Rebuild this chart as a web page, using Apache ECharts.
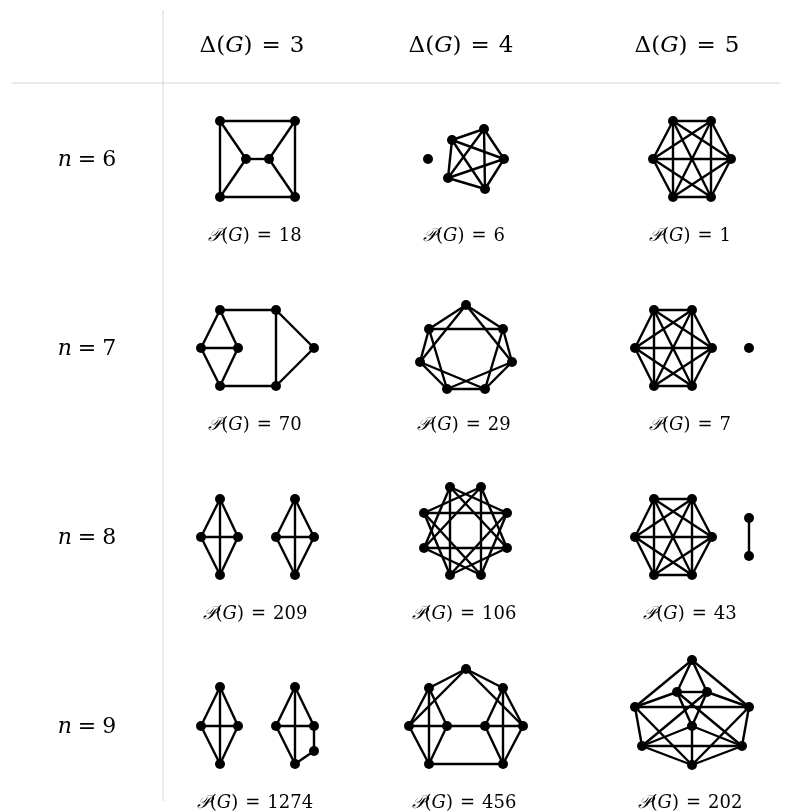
<!DOCTYPE html>
<html>
<head>
  <meta charset="utf-8">
  <title>ECharts</title>
  <script src="https://cdn.jsdelivr.net/npm/echarts@6/dist/echarts.min.js"></script>
</head>
<body style="margin:0">
<div id="main" style="width: 791px;height:811px;"></div>
<script type="text/javascript">
  // table headers
  var degLabels = ['3', '4', '5'];
  var nLabels = ['6', '7', '8', '9'];
  // P(G) per row (n) and column (Delta)
  var pValues = [
    [18, 6, 1],
    [70, 29, 7],
    [209, 106, 43],
    [1274, 456, 202]
  ];

  // graph layouts: node offsets from cell centre, edges as index pairs
  var g63 = {
    nodes: [[-37, -38], [38, -38], [-37, 38], [38, 38], [-11, 0], [12, 0]],
    edges: [[0, 1], [0, 2], [1, 3], [2, 3], [0, 4], [2, 4], [4, 5], [5, 1], [5, 3]]
  };
  var g64 = {
    nodes: [[-38, 0], [18, -30], [-14, -19], [38, 0], [-18, 19], [19, 30]],
    edges: [[1, 2], [1, 3], [1, 4], [1, 5], [2, 3], [2, 4], [2, 5], [3, 4], [3, 5], [4, 5]]
  };
  var g65 = {
    nodes: [[-19, -38], [19, -38], [-39, 0], [39, 0], [-19, 38], [19, 38]],
    edges: [[0, 1], [0, 2], [0, 3], [0, 4], [0, 5], [1, 2], [1, 3], [1, 4], [1, 5],
            [2, 3], [2, 4], [2, 5], [3, 4], [3, 5], [4, 5]]
  };
  var g73 = {
    nodes: [[-37, -38], [-56, 0], [-19, 0], [-37, 38], [19, -38], [19, 38], [57, 0]],
    edges: [[0, 1], [0, 2], [1, 2], [1, 3], [2, 3], [0, 4], [3, 5], [4, 5], [4, 6], [5, 6]]
  };
  // C7(1,2): order top, ur, r, br, bl, l, ul
  var g74 = {
    nodes: [[0, -43], [37, -19], [46, 14], [19, 41], [-19, 41], [-46, 14], [-37, -19]],
    edges: [[0, 1], [1, 2], [2, 3], [3, 4], [4, 5], [5, 6], [6, 0],
            [0, 2], [1, 3], [2, 4], [3, 5], [4, 6], [5, 0], [6, 1]]
  };
  var g75 = {
    nodes: [[-38, -38], [0, -38], [-57, 0], [20, 0], [-38, 38], [0, 38], [57, 0]],
    edges: [[0, 1], [0, 2], [0, 3], [0, 4], [0, 5], [1, 2], [1, 3], [1, 4], [1, 5],
            [2, 3], [2, 4], [2, 5], [3, 4], [3, 5], [4, 5]]
  };
  var g83 = {
    nodes: [[-37, -38], [-56, 0], [-19, 0], [-37, 38], [38, -38], [19, 0], [57, 0], [38, 38]],
    edges: [[0, 1], [0, 2], [0, 3], [1, 2], [1, 3], [2, 3],
            [4, 5], [4, 6], [4, 7], [5, 6], [5, 7], [6, 7]]
  };
  // C8(2,3): order tl, tr, ur, lr, br, bl, ll, ul
  var g84 = {
    nodes: [[-16, -50], [15, -50], [41, -24], [41, 11], [15, 38], [-16, 38], [-42, 11], [-42, -24]],
    edges: [[0, 2], [1, 3], [2, 4], [3, 5], [4, 6], [5, 7], [6, 0], [7, 1],
            [0, 3], [1, 4], [2, 5], [3, 6], [4, 7], [5, 0], [6, 1], [7, 2]]
  };
  var g85 = {
    nodes: [[-38, -38], [0, -38], [-57, 0], [20, 0], [-38, 38], [0, 38], [57, -19], [57, 19]],
    edges: [[0, 1], [0, 2], [0, 3], [0, 4], [0, 5], [1, 2], [1, 3], [1, 4], [1, 5],
            [2, 3], [2, 4], [2, 5], [3, 4], [3, 5], [4, 5], [6, 7]]
  };
  var g93 = {
    nodes: [[-37, -39], [-56, 0], [-19, 0], [-37, 38], [38, -39], [19, 0], [57, 0], [38, 38], [57, 25]],
    edges: [[0, 1], [0, 2], [0, 3], [1, 2], [1, 3], [2, 3],
            [4, 5], [4, 6], [4, 7], [5, 6], [5, 7], [6, 8], [8, 7]]
  };
  // top, ul, ur, l, ml, mr, r, bl, br
  var g94 = {
    nodes: [[0, -57], [-37, -38], [37, -38], [-57, 0], [-19, 0], [19, 0], [57, 0], [-37, 38], [37, 38]],
    edges: [[0, 1], [0, 2], [0, 3], [0, 6],
            [1, 3], [1, 4], [1, 7], [3, 4], [3, 7], [4, 7],
            [2, 6], [2, 5], [2, 8], [6, 5], [6, 8], [5, 8],
            [4, 5], [7, 8]]
  };
  // top, il, ir, L, R, C, BL, BR, B
  var g95 = {
    nodes: [[0, -66], [-15, -34], [15, -34], [-57, -19], [57, -19], [0, 0], [-50, 20], [50, 20], [0, 39]],
    edges: [[0, 1], [0, 2], [0, 3], [0, 4], [1, 2], [1, 3], [2, 4], [3, 4],
            [3, 6], [4, 7], [6, 7], [6, 8], [7, 8], [5, 8], [5, 6], [5, 7],
            [1, 7], [2, 6], [3, 8], [4, 8], [1, 5], [2, 5]]
  };
  var graphs = [
    [g63, g64, g65],
    [g73, g74, g75],
    [g83, g84, g85],
    [g93, g94, g95]
  ];

  var colX = [257, 466, 692];
  var rowY = [159, 348, 537, 726];
  var font = 'DejaVu Serif';

  var myChart = echarts.init(document.getElementById('main'));

  var series = [];
  graphs.forEach(function (row, r) {
    row.forEach(function (g, c) {
      series.push({
        type: 'graph',
        coordinateSystem: 'cartesian2d',
        layout: 'none',
        silent: true,
        symbol: 'circle',
        symbolSize: 10,
        itemStyle: { color: '#000' },
        lineStyle: { color: '#000', width: 2.4, opacity: 1 },
        data: g.nodes.map(function (p) { return [colX[c] + p[0], rowY[r] + p[1]]; }),
        links: g.edges.map(function (e) { return { source: e[0], target: e[1] }; }),
        z: 3
      });
    });
  });

  function richSet(size, pad) {
    return {
      i: { fontFamily: font, fontStyle: 'italic', fontSize: size, fill: '#000' },
      n: { fontFamily: font, fontSize: size, fill: '#000' },
      e: { fontFamily: font, fontSize: size, fill: '#000', padding: [0, pad, 0, pad] }
    };
  }
  var richHead = richSet(23, 9);
  var richRow = richSet(22, 6);
  var richP = richSet(18, 7);

  var graphic = [
    { type: 'line', shape: { x1: 163, y1: 10, x2: 163, y2: 801 }, style: { stroke: '#d4d4d4', lineWidth: 1 } },
    { type: 'line', shape: { x1: 12, y1: 83, x2: 780, y2: 83 }, style: { stroke: '#d4d4d4', lineWidth: 1 } }
  ];
  degLabels.forEach(function (d, c) {
    graphic.push({
      type: 'text', x: colX[c] - 5, y: 46,
      style: { text: '{n|Δ(}{i|G}{n|)}{e|=}{n|' + d + '}', rich: richHead, align: 'center', verticalAlign: 'middle' }
    });
  });
  nLabels.forEach(function (n, r) {
    graphic.push({
      type: 'text', x: 87, y: rowY[r] + 1,
      style: { text: '{i|n}{e|=}{n|' + n + '}', rich: richRow, align: 'center', verticalAlign: 'middle' }
    });
  });
  pValues.forEach(function (row, r) {
    row.forEach(function (v, c) {
      graphic.push({
        type: 'text', x: colX[c] - 2, y: rowY[r] + 77,
        style: { text: '{i|𝒫}{n|(}{i|G}{n|)}{e|=}{n|' + v + '}', rich: richP, align: 'center', verticalAlign: 'middle' }
      });
    });
  });

  var option = {
    animation: false,
    grid: { left: 0, right: 0, top: 0, bottom: 0 },
    xAxis: { type: 'value', min: 0, max: 791, show: false },
    yAxis: { type: 'value', min: 0, max: 811, inverse: true, show: false },
    series: series,
    graphic: graphic
  };

  myChart.setOption(option);
</script>
</body>
</html>
